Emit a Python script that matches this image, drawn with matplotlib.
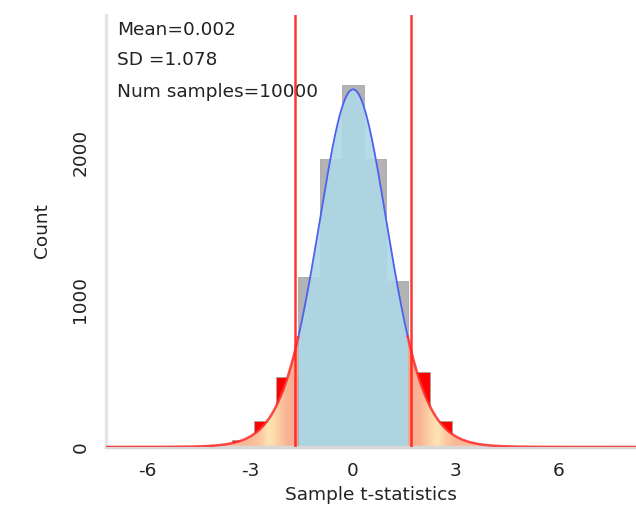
import math
import numpy as np
import matplotlib
matplotlib.use("Agg")
import matplotlib.pyplot as plt
from matplotlib.colors import LinearSegmentedColormap
from matplotlib.patches import PathPatch

# histogram of sample t-statistics
bin_centers = [-5.12, -4.48, -3.84, -3.2, -2.56, -1.92, -1.28, -0.64, 0.0,
               0.64, 1.28, 1.92, 2.56, 3.2, 3.84, 4.48, 5.12]
counts = [1, 3, 12, 47, 176, 477, 1150, 1950, 2454,
          1950, 1127, 510, 176, 36, 10, 3, 1]
bin_width = 0.64
inner_edge = 1.6       # bars inside +-1.6 are grey, outside red
crit = 1.69            # red critical lines
mean_t = 0.002
sd_t = 1.078
n_samples = 10000
df = 14
scale = 1.034

xmin, xmax = -7.2, 8.25
ymax = 2930

def t_curve(x):
    z = (x - mean_t) / scale
    c = math.gamma((df + 1) / 2) / (math.sqrt(df * math.pi) * math.gamma(df / 2) * scale)
    return n_samples * bin_width * c * (1 + z ** 2 / df) ** (-(df + 1) / 2)

fig = plt.figure(figsize=(6.36, 5.14), dpi=100)
ax = fig.add_axes([106 / 636, 67 / 514, 530 / 636, 432 / 514])

bar_colors = ['#b3b3b3' if abs(c) < inner_edge else '#ff0000' for c in bin_centers]
ax.bar(bin_centers, counts, width=bin_width, color=bar_colors,
       edgecolor='#a6a6a6', linewidth=0.6, zorder=1)

x = np.linspace(xmin, xmax, 2000)
y = t_curve(x)

# centre fill
mid = np.abs(x) <= inner_edge
ax.fill_between(x[mid], 0, y[mid], color='#add8e6', alpha=0.9, lw=0, zorder=2)

# tail fills with a gradient
grad = LinearSegmentedColormap.from_list('tail', [
    (0.0, '#f7a88c'), (0.25, '#f9b597'), (0.5, '#fdd8aa'), (0.62, '#ffe4b3'),
    (0.8, '#fcc7a0'), (1.0, '#f9b999')])
gx = np.linspace(0, 1, 400)
for side in (-1, 1):
    sel = (x * side) >= inner_edge
    poly = ax.fill_between(x[sel], 0, y[sel], color='none', lw=0)
    clip = PathPatch(poly.get_paths()[0], transform=ax.transData, fc='none', ec='none')
    ax.add_patch(clip)
    dist = np.clip((np.abs(np.linspace(-8, 8, 400)) - inner_edge) / 1.4, 0, 1)
    img = ax.imshow(dist[np.newaxis, :], cmap=grad, aspect='auto',
                    extent=(-8, 8, 0, ymax), origin='lower', zorder=2, vmin=0, vmax=1)
    img.set_clip_path(clip)

ax.plot(x[mid], y[mid], color='#4f5ff0', lw=1.3, zorder=4)
for side in (-1, 1):
    sel = (x * side) >= inner_edge - 0.01
    ax.plot(x[sel], y[sel], color='#ff2a2a', lw=1.8, alpha=0.85, zorder=4)

for c in (-crit, crit):
    ax.axvline(c, color='#ff2020', lw=1.8, alpha=0.9, zorder=5)

ax.text(0.021, 0.954, 'Mean=%.3f' % mean_t, transform=ax.transAxes, fontsize=13.3, color='#222222')
ax.text(0.021, 0.884, 'SD =%.3f' % sd_t, transform=ax.transAxes, fontsize=13.3, color='#222222')
ax.text(0.021, 0.811, 'Num samples=%d' % n_samples, transform=ax.transAxes, fontsize=13.3, color='#222222')

ax.set_xlim(xmin, xmax)
ax.set_ylim(0, ymax)
ax.set_xticks([-6, -3, 0, 3, 6])
ax.set_xticklabels(['-6', '-3', '0', '3', '6'])
ax.set_yticks([0, 1000, 2000])
ax.set_yticklabels(['0', '1000', '2000'], rotation=90, va='center')
ax.tick_params(axis='both', length=0, labelsize=13.3, labelcolor='#222222')
ax.tick_params(axis='x', pad=11)
ax.tick_params(axis='y', pad=12)
ax.set_xlabel('Sample t-statistics', fontsize=13.3, color='#222222', labelpad=4)
ax.set_ylabel('Count', fontsize=13.3, color='#222222', labelpad=15)

for s in ('top', 'right'):
    ax.spines[s].set_visible(False)
ax.spines['left'].set_color('#e6e6e6')
ax.spines['left'].set_linewidth(2.5)
ax.spines['bottom'].set_color('#d8d8d8')
ax.spines['bottom'].set_linewidth(2.5)

fig.savefig('out.png', dpi=100)
